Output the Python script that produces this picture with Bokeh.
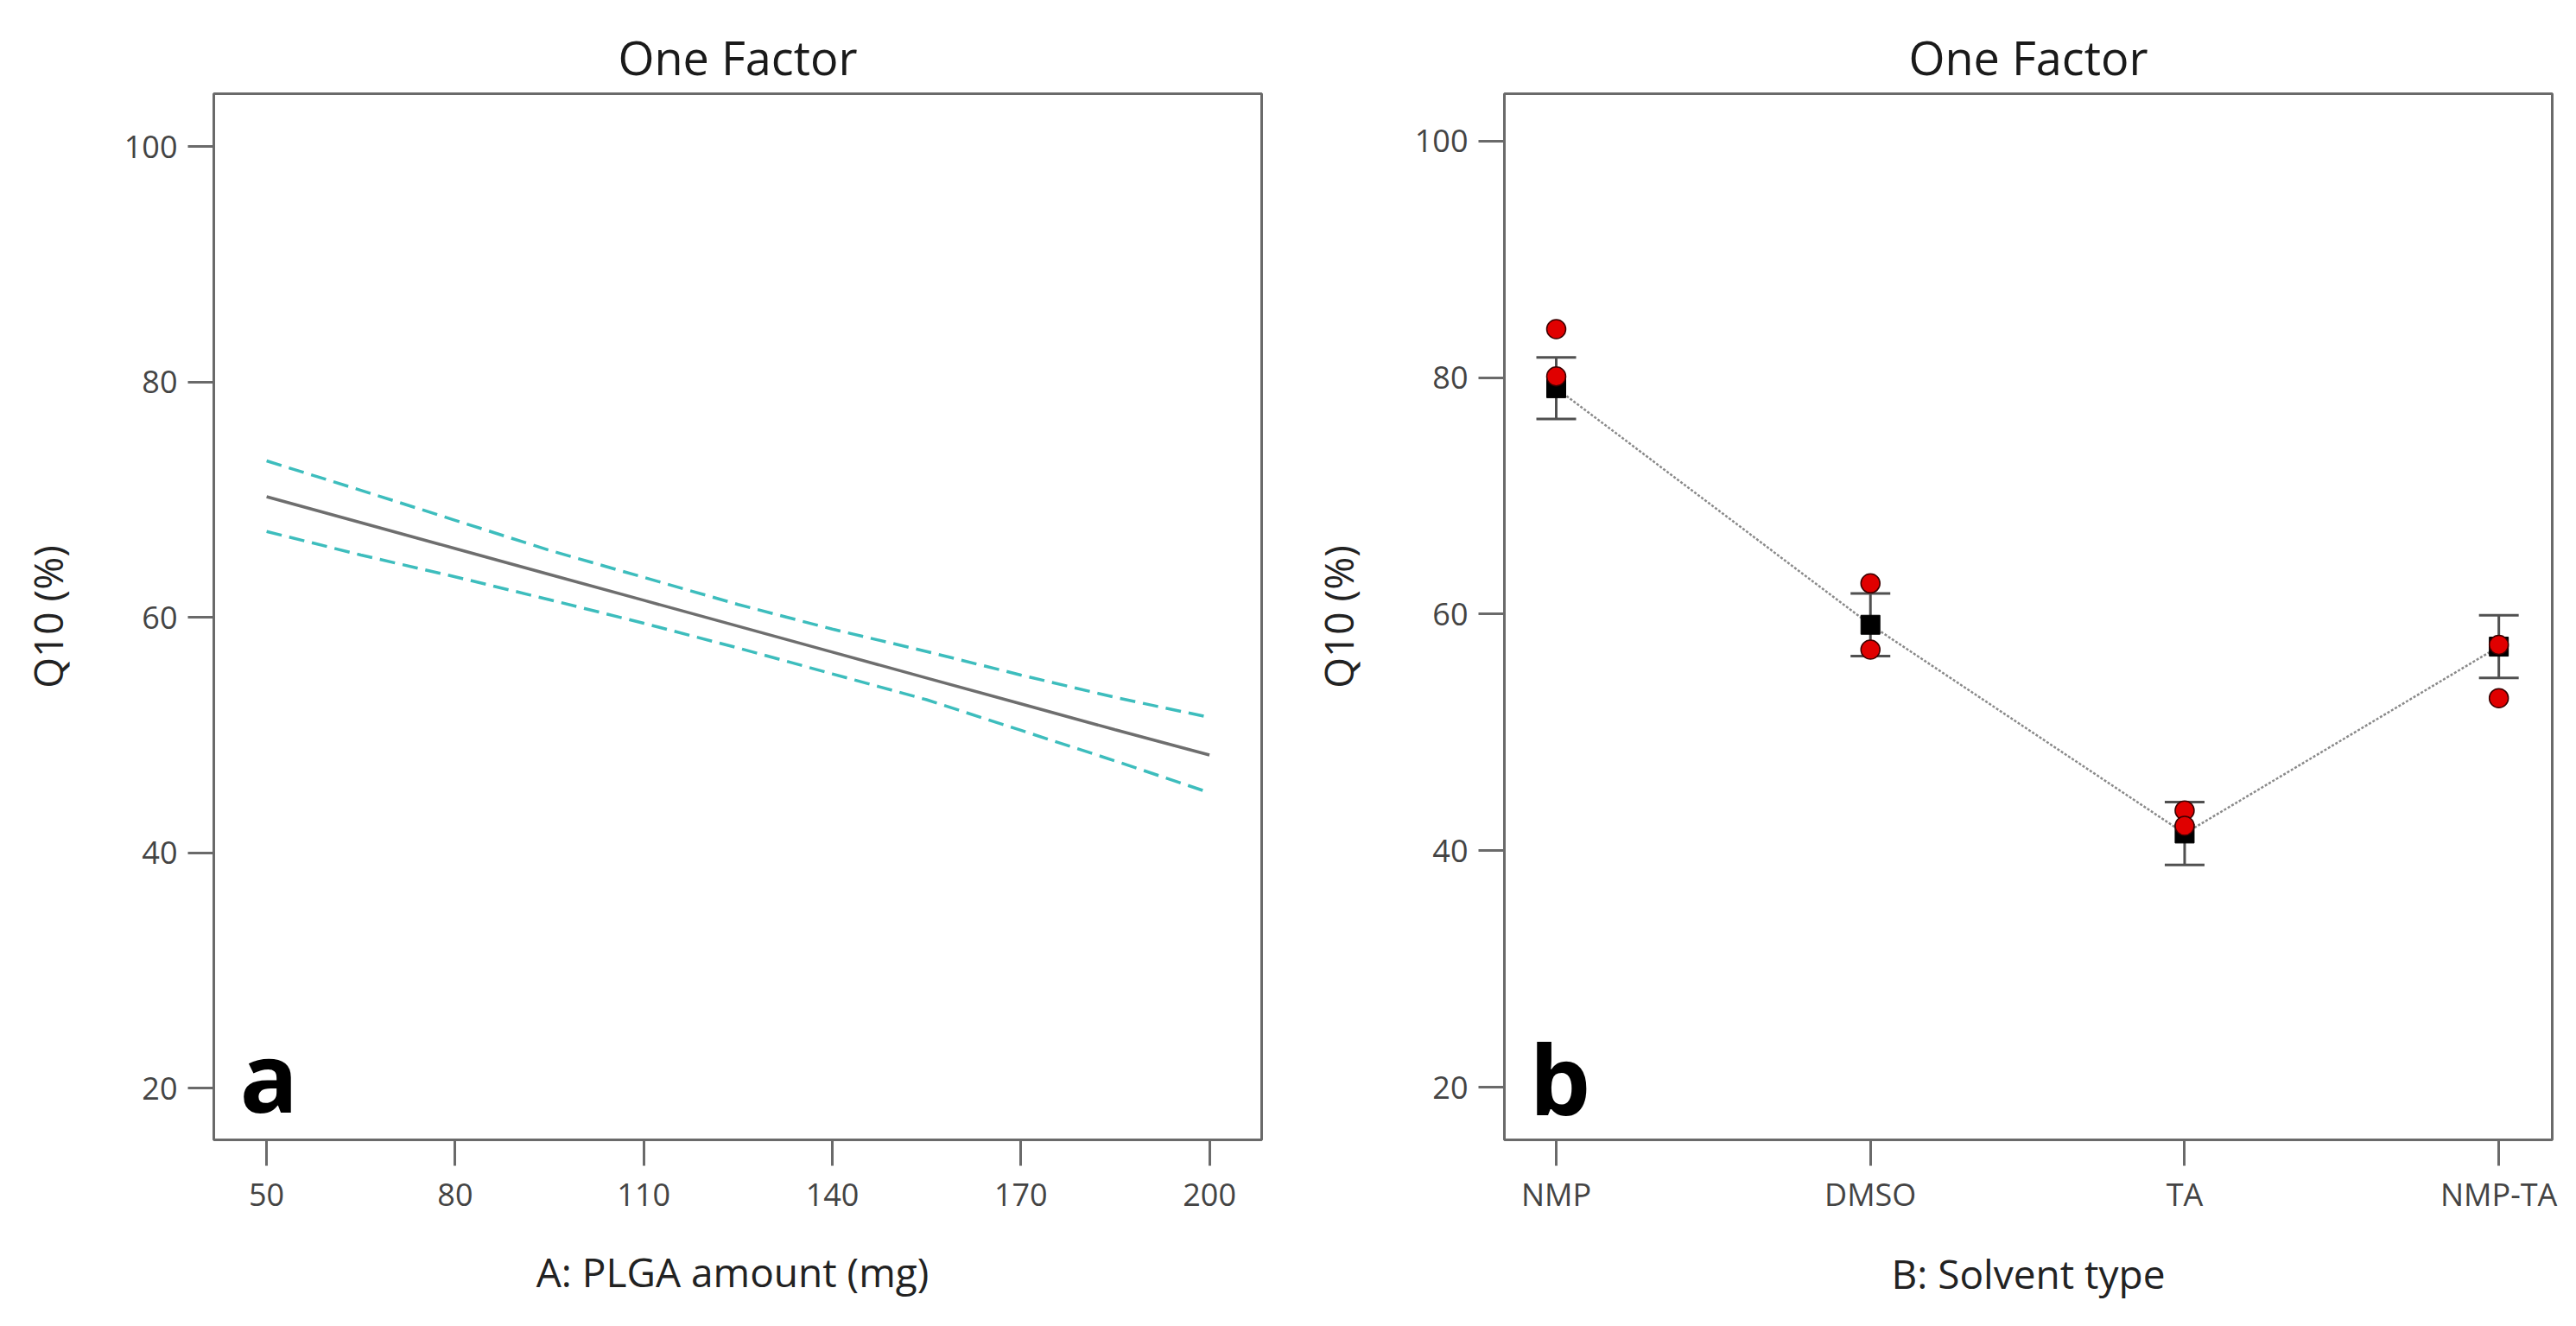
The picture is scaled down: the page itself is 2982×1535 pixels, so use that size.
from bokeh.plotting import figure
from bokeh.layouts import row
from bokeh.models import Label, FixedTicker, Whisker, TeeHead, ColumnDataSource, Range1d
from bokeh.embed import file_html
from bokeh.resources import INLINE

# ---- data: panel a ----
plga = [50, 65, 80, 95, 110, 125, 140, 155, 170, 185, 200]
q10_pred = [70.25, 68.05, 65.85, 63.65, 61.45, 59.25, 57.05, 54.85, 52.65, 50.45, 48.3]
ci_high = [73.3, 70.8, 68.25, 65.7, 63.4, 61.1, 59.0, 57.1, 55.1, 53.2, 51.5]
ci_low = [67.3, 65.3, 63.45, 61.5, 59.5, 57.4, 55.2, 53.0, 50.4, 47.8, 45.1]
x_ticks_a = [50, 80, 110, 140, 170, 200]
y_ticks = [20, 40, 60, 80, 100]

# ---- data: panel b ----
solvents = ["NMP", "DMSO", "TA", "NMP-TA"]
solvent_mean = [79.1, 59.1, 41.45, 57.25]
solvent_err = [2.6, 2.65, 2.65, 2.65]
obs_solvent = ["NMP", "NMP", "DMSO", "DMSO", "TA", "TA", "NMP-TA", "NMP-TA"]
obs_q10 = [84.1, 80.1, 62.6, 57.0, 43.4, 42.1, 57.4, 52.9]

FONT = "Open Sans"
FRAME = "#6a6a6a"


def style(p, xlabel, ylabel):
    p.title.text_font = FONT
    p.title.text_font_size = "54px"
    p.title.text_font_style = "normal"
    p.title.text_color = "#1a1a1a"
    p.title.align = "center"
    p.title.standoff = 12
    p.outline_line_color = FRAME
    p.outline_line_width = 3
    p.xgrid.visible = False
    p.ygrid.visible = False
    p.background_fill_color = "white"
    p.border_fill_color = "white"
    for ax in (p.xaxis[0], p.yaxis[0]):
        ax.axis_line_color = None
        ax.major_tick_line_color = FRAME
        ax.major_tick_line_width = 3
        ax.major_tick_out = 30
        ax.major_tick_in = 0
        ax.minor_tick_line_color = None
        ax.major_label_text_font = FONT
        ax.major_label_text_font_size = "36px"
        ax.major_label_text_color = "#444444"
        ax.axis_label_text_font = FONT
        ax.axis_label_text_font_size = "46px"
        ax.axis_label_text_font_style = "normal"
        ax.axis_label_text_color = "#222222"
    p.xaxis.axis_label = xlabel
    p.yaxis.axis_label = ylabel
    p.yaxis.major_label_standoff = 12
    p.yaxis.axis_label_standoff = 55
    p.yaxis.ticker = FixedTicker(ticks=y_ticks)


# ---- panel a ----
p1 = figure(width=1488, height=1528, output_backend="svg", toolbar_location=None,
            title="One Factor", x_range=Range1d(41.6, 208.3), y_range=Range1d(15.6, 104.5),
            min_border_left=247, min_border_right=28, min_border_top=108, min_border_bottom=206)
style(p1, "A: PLGA amount  (mg)", "Q10 (%)")
p1.xaxis.ticker = FixedTicker(ticks=x_ticks_a)
p1.xaxis.major_label_standoff = 20
p1.xaxis.axis_label_standoff = 42
src_a = ColumnDataSource(dict(x=plga, y=q10_pred, hi=ci_high, lo=ci_low))
p1.line("x", "hi", source=src_a, line_color="#3dbdbd", line_width=3.5, line_dash="18 9")
p1.line("x", "lo", source=src_a, line_color="#3dbdbd", line_width=3.5, line_dash="18 9")
p1.line("x", "y", source=src_a, line_color="#6e6e6e", line_width=3.5)
p1.add_layout(Label(x=30, y=75, x_units="screen", y_units="screen", text="a",
                    text_font=FONT, text_font_size="112px", text_font_style="bold",
                    text_color="black", text_baseline="alphabetic"))

# ---- panel b ----
xi = list(range(len(solvents)))
p2 = figure(width=1490, height=1528, output_backend="svg", toolbar_location=None,
            title="One Factor", x_range=Range1d(-0.165, 3.17), y_range=Range1d(15.55, 104.0),
            min_border_left=253, min_border_right=24, min_border_top=105, min_border_bottom=209)
style(p2, "B: Solvent type", "Q10 (%)")
p2.xaxis.ticker = FixedTicker(ticks=xi)
p2.xaxis.major_label_overrides = {i: s for i, s in enumerate(solvents)}
p2.xaxis.major_label_standoff = 8
p2.xaxis.axis_label_standoff = 33

src_m = ColumnDataSource(dict(x=xi, y=solvent_mean,
                              up=[m + e for m, e in zip(solvent_mean, solvent_err)],
                              lo=[m - e for m, e in zip(solvent_mean, solvent_err)]))
p2.line("x", "y", source=src_m, line_color="#8a8a8a", line_width=2.5, line_dash="3 2")
wcol = "#505050"
p2.add_layout(Whisker(base="x", upper="up", lower="lo", source=src_m, dimension="height",
                      line_color=wcol, line_width=3,
                      upper_head=TeeHead(size=46, line_color=wcol, line_width=3),
                      lower_head=TeeHead(size=46, line_color=wcol, line_width=3)))
p2.scatter("x", "y", source=src_m, marker="square", size=22, fill_color="black", line_color="black")
obs_x = [solvents.index(s) for s in obs_solvent]
p2.scatter(obs_x, obs_q10, marker="circle", size=22, fill_color="#e00000",
           line_color="#3a0000", line_width=1.5)
p2.add_layout(Label(x=29, y=72, x_units="screen", y_units="screen", text="b",
                    text_font=FONT, text_font_size="112px", text_font_style="bold",
                    text_color="black", text_baseline="alphabetic"))

layout = row(p1, p2)
open("out.html", "w").write(file_html(layout, INLINE))
